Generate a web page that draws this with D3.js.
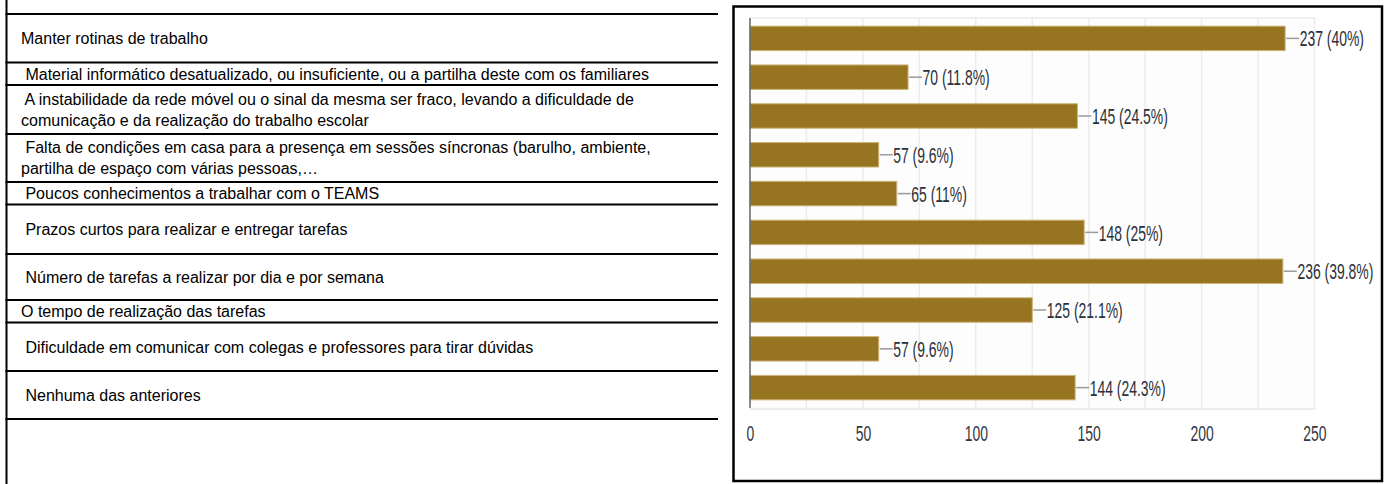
<!DOCTYPE html>
<html lang="pt">
<head>
<meta charset="utf-8">
<title>Dificuldades no ensino a distância</title>
<script src="https://cdn.jsdelivr.net/npm/d3@7"></script>
<style>
  html, body { margin: 0; padding: 0; background: #ffffff; }
  svg { display: block; }
</style>
</head>
<body>
<svg id="figure" width="1386" height="484"></svg>
<script>
// ---- data ----------------------------------------------------------------
// Each category's text, split into the lines shown in the table cell.
const categoryLines = [
  ["Manter rotinas de trabalho"],
  [" Material informático desatualizado, ou insuficiente, ou a partilha deste com os familiares"],
  [" A instabilidade da rede móvel ou o sinal da mesma ser fraco, levando a dificuldade de",
   "comunicação e da realização do trabalho escolar"],
  [" Falta de condições em casa para a presença em sessões síncronas (barulho, ambiente,",
   "partilha de espaço com várias pessoas,…"],
  [" Poucos conhecimentos a trabalhar com o TEAMS"],
  [" Prazos curtos para realizar e entregar tarefas"],
  [" Número de tarefas a realizar por dia e por semana"],
  ["O tempo de realização das tarefas"],
  [" Dificuldade em comunicar com colegas e professores para tirar dúvidas"],
  [" Nenhuma das anteriores"]
];
const responses = [237, 70, 145, 57, 65, 148, 236, 125, 57, 144];
const percentages = ["40%", "11.8%", "24.5%", "9.6%", "11%", "25%", "39.8%", "21.1%", "9.6%", "24.3%"];
const xTickValues = [0, 50, 100, 150, 200, 250];
const xGridValues = [25, 50, 75, 100, 125, 150, 175, 200, 225, 250];

// ---- layout --------------------------------------------------------------
const svg = d3.select("#figure");

const table = { left: 6.5, right: 718, top: 14, textX: 21, lineGap: 21 };
const rowHeights = [48.5, 22.5, 49, 48, 22.5, 49.5, 46, 22.5, 48.5, 48];

const box = { x: 733.5, y: 6.5, right: 1382, bottom: 481 };
const plot = { left: 750, right: 1314.5, top: 18, bottom: 408 };

const condensed = 0.62;      // horizontal squeeze of the chart lettering
const chartFont = "'Liberation Sans', Arial, sans-serif";

// ---- table of categories -------------------------------------------------
const rowEdges = [table.top];
rowHeights.forEach(h => rowEdges.push(rowEdges[rowEdges.length - 1] + h));

const tbl = svg.append("g").attr("class", "category-table");

tbl.append("line")
  .attr("x1", table.left).attr("x2", table.left)
  .attr("y1", 0).attr("y2", 484)
  .attr("stroke", "#000").attr("stroke-width", 2);

tbl.selectAll("line.row-rule")
  .data(rowEdges)
  .join("line")
  .attr("class", "row-rule")
  .attr("x1", table.left - 1).attr("x2", table.right)
  .attr("y1", d => d).attr("y2", d => d)
  .attr("stroke", "#000").attr("stroke-width", 2);

const cells = tbl.selectAll("g.cell")
  .data(categoryLines)
  .join("g")
  .attr("class", "cell")
  .attr("transform", (d, i) => `translate(0,${(rowEdges[i] + rowEdges[i + 1]) / 2})`);

cells.selectAll("text")
  .data(lines => lines.map((t, k) => ({ t, k, n: lines.length })))
  .join("text")
  .attr("x", table.textX)
  .attr("y", d => (d.k - (d.n - 1) / 2) * table.lineGap)
  .attr("dy", "0.36em")
  .attr("xml:space", "preserve")
  .style("white-space", "pre")
  .attr("font-family", "'Liberation Sans', Arial, sans-serif")
  .attr("font-size", 16)
  .attr("fill", "#000")
  .text(d => d.t);

// ---- bar chart -----------------------------------------------------------
const chart = svg.append("g").attr("class", "bar-chart");

chart.append("rect")
  .attr("x", box.x).attr("y", box.y)
  .attr("width", box.right - box.x).attr("height", box.bottom - box.y)
  .attr("fill", "#fff")
  .attr("stroke", "#000").attr("stroke-width", 2.5);

const x = d3.scaleLinear().domain([0, 250]).range([plot.left, plot.right]);
const y = d3.scaleBand()
  .domain(d3.range(responses.length))
  .range([plot.top, plot.bottom])
  .paddingInner(0.37)
  .paddingOuter(0.21);

// plot background and light vertical grid
chart.append("rect")
  .attr("x", plot.left).attr("y", plot.top)
  .attr("width", x(250) - plot.left + 1).attr("height", plot.bottom - plot.top)
  .attr("fill", "#fdfdfd");

chart.append("line")
  .attr("x1", plot.left).attr("x2", x(250) + 1)
  .attr("y1", plot.top).attr("y2", plot.top)
  .attr("stroke", "#f0f0f0").attr("stroke-width", 2);

chart.selectAll("line.grid")
  .data(xGridValues)
  .join("line")
  .attr("class", "grid")
  .attr("x1", d => x(d)).attr("x2", d => x(d))
  .attr("y1", plot.top).attr("y2", plot.bottom)
  .attr("stroke", "#ececec").attr("stroke-width", 1.5);

chart.append("line")
  .attr("x1", plot.left).attr("x2", x(250) + 1)
  .attr("y1", plot.bottom + 1).attr("y2", plot.bottom + 1)
  .attr("stroke", "#ececec").attr("stroke-width", 2);

// bars
chart.selectAll("rect.bar")
  .data(responses)
  .join("rect")
  .attr("class", "bar")
  .attr("x", x(0))
  .attr("y", (d, i) => y(i))
  .attr("width", d => x(d) - x(0))
  .attr("height", y.bandwidth())
  .attr("fill", "#967420")
  .attr("stroke", "#cdb37a")
  .attr("stroke-width", 1);

// vertical axis line
chart.append("line")
  .attr("x1", plot.left).attr("x2", plot.left)
  .attr("y1", plot.top).attr("y2", plot.bottom)
  .attr("stroke", "#666").attr("stroke-width", 1.5);

// value labels with leader lines
const labels = chart.selectAll("g.value-label")
  .data(responses)
  .join("g")
  .attr("class", "value-label")
  .attr("transform", (d, i) => `translate(${x(d)},${y(i) + y.bandwidth() / 2})`);

labels.append("line")
  .attr("x1", 1).attr("x2", 14)
  .attr("y1", 0).attr("y2", 0)
  .attr("stroke", "#9a9a9a").attr("stroke-width", 1.5);

labels.append("text")
  .attr("transform", `translate(14.5,0) scale(${condensed},1)`)
  .attr("dy", "0.36em")
  .attr("font-family", chartFont)
  .attr("font-size", 22.5)
  .attr("fill", "#2a303a")
  .text((d, i) => `${d} (${percentages[i]})`);

// horizontal axis tick labels
const xAxis = d3.axisBottom(x)
  .tickValues(xTickValues)
  .tickSize(0)
  .tickPadding(0)
  .tickFormat(d3.format("d"));

const axisG = chart.append("g")
  .attr("class", "x-axis")
  .attr("transform", "translate(0,433)")
  .call(xAxis);

axisG.select(".domain").remove();
axisG.selectAll(".tick text")
  .attr("y", 0)
  .attr("dy", "0.36em")
  .attr("transform", `scale(${condensed},1)`)
  .attr("font-family", chartFont)
  .attr("font-size", 22.5)
  .attr("fill", "#333842");
</script>
</body>
</html>
